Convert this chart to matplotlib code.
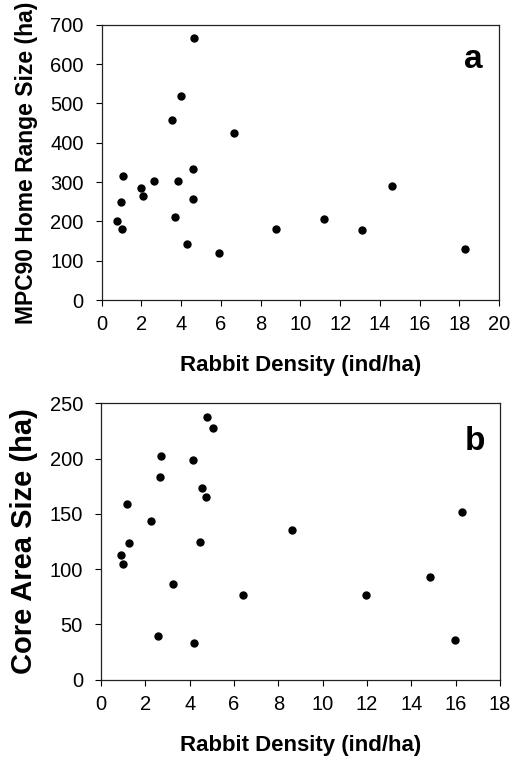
#!/usr/bin/env python3
import matplotlib
matplotlib.use("Agg")
import matplotlib.pyplot as plt

# MPC90 home range vs rabbit density
density_a = [0.75, 1.01, 0.99, 1.09, 1.96, 2.09, 2.63, 3.52, 3.69, 3.84, 3.99,
             4.28, 4.58, 4.61, 4.63, 5.90, 6.65, 8.77, 11.20, 13.09, 14.59, 18.26]
home_range = [200, 180, 248, 315, 286, 264, 302, 459, 211, 302, 518,
              142, 333, 256, 667, 120, 425, 181, 205, 177, 290, 130]

# core area vs rabbit density
density_b = [4.80, 5.07, 2.71, 4.16, 2.65, 4.56, 4.75, 1.19, 2.24, 16.30, 8.60,
             1.26, 4.47, 0.89, 0.99, 3.26, 6.42, 11.95, 14.83, 2.59, 4.21, 15.97]
core_area = [238, 228, 202, 198.5, 183, 173, 165, 158.7, 143.6, 152, 135.7,
             123.6, 124.8, 112.8, 104.3, 86.8, 76.5, 76.5, 92.8, 39.4, 33, 36]

xticks_a = list(range(0, 21, 2))
yticks_a = list(range(0, 701, 100))
xticks_b = list(range(0, 19, 2))
yticks_b = list(range(0, 251, 50))

plt.rcParams['font.family'] = ['Liberation Sans', 'DejaVu Sans']

fig = plt.figure(figsize=(5.23, 7.64), dpi=100)
ax1 = fig.add_axes([0.1945, 0.6073, 0.760, 0.3603])
ax2 = fig.add_axes([0.1931, 0.1106, 0.763, 0.3613])


def style_axis(ax, xticks, yticks):
    ax.set_xlim(xticks[0], xticks[-1])
    ax.set_ylim(yticks[0], yticks[-1])
    ax.set_xticks(xticks)
    ax.set_yticks(yticks)
    ax.tick_params(direction='out', length=4, width=0.8, labelsize=14.5)
    ax.tick_params(axis='x', pad=7)
    ax.tick_params(axis='y', pad=9)
    for s in ax.spines.values():
        s.set_linewidth(0.9)
        s.set_color('#222222')


ax1.plot(density_a, home_range, 'o', color='black', markersize=5)
style_axis(ax1, xticks_a, yticks_a)
ax1.set_xlabel('Rabbit Density (ind/ha)', fontsize=16, fontweight='bold', labelpad=15)
ax1.set_ylabel('MPC90 Home Range Size (ha)', fontsize=16.5, fontweight='bold', labelpad=9)
ax1.text(0.936, 0.875, 'a', transform=ax1.transAxes, fontsize=24,
         fontweight='bold', ha='center', va='center')

ax2.plot(density_b, core_area, 'o', color='black', markersize=5)
style_axis(ax2, xticks_b, yticks_b)
ax2.set_xlabel('Rabbit Density (ind/ha)', fontsize=16, fontweight='bold', labelpad=15)
ax2.set_ylabel('Core Area Size (ha)', fontsize=21, fontweight='bold', labelpad=8)
ax2.text(0.937, 0.862, 'b', transform=ax2.transAxes, fontsize=24,
         fontweight='bold', ha='center', va='center')

fig.savefig('out.png', dpi=100)
